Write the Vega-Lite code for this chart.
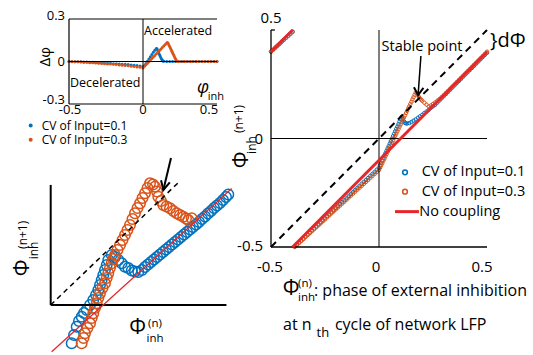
{
"$schema": "https://vega.github.io/schema/vega-lite/v6.json",
"width": 533, "height": 355, "autosize": {"type": "none"}, "padding": 0,
"background": "white",
"config": {"view": {"stroke": null}, "font": "Open Sans",
  "axis": {"grid": false, "ticks": false},
  "text": {"font": "Open Sans", "color": "#000"}},
"data": {"values": [{}]},
"datasets": {
"tl": [
{"cv":"0.1","x":-0.5,"y":0},{"cv":"0.1","x":-0.48,"y":-0.001},{"cv":"0.1","x":-0.46,"y":-0.001},{"cv":"0.1","x":-0.44,"y":-0.002},{"cv":"0.1","x":-0.42,"y":-0.002},{"cv":"0.1","x":-0.4,"y":-0.003},{"cv":"0.1","x":-0.38,"y":-0.004},{"cv":"0.1","x":-0.36,"y":-0.005},{"cv":"0.1","x":-0.34,"y":-0.006},{"cv":"0.1","x":-0.32,"y":-0.007},{"cv":"0.1","x":-0.3,"y":-0.008},{"cv":"0.1","x":-0.28,"y":-0.009},{"cv":"0.1","x":-0.26,"y":-0.011},{"cv":"0.1","x":-0.24,"y":-0.012},{"cv":"0.1","x":-0.22,"y":-0.013},{"cv":"0.1","x":-0.2,"y":-0.015},{"cv":"0.1","x":-0.18,"y":-0.016},{"cv":"0.1","x":-0.16,"y":-0.017},{"cv":"0.1","x":-0.14,"y":-0.019},{"cv":"0.1","x":-0.12,"y":-0.02},{"cv":"0.1","x":-0.1,"y":-0.022},{"cv":"0.1","x":-0.08,"y":-0.024},{"cv":"0.1","x":-0.06,"y":-0.026},{"cv":"0.1","x":-0.04,"y":-0.028},{"cv":"0.1","x":-0.02,"y":-0.031},{"cv":"0.1","x":0,"y":-0.035},{"cv":"0.1","x":0.01,"y":-0.028},{"cv":"0.1","x":0.02,"y":-0.014},{"cv":"0.1","x":0.03,"y":0.002},{"cv":"0.1","x":0.04,"y":0.018},{"cv":"0.1","x":0.05,"y":0.034},{"cv":"0.1","x":0.06,"y":0.05},{"cv":"0.1","x":0.07,"y":0.065},{"cv":"0.1","x":0.08,"y":0.08},{"cv":"0.1","x":0.09,"y":0.092},{"cv":"0.1","x":0.095,"y":0.09},{"cv":"0.1","x":0.1,"y":0.078},{"cv":"0.1","x":0.105,"y":0.066},{"cv":"0.1","x":0.11,"y":0.052},{"cv":"0.1","x":0.115,"y":0.04},{"cv":"0.1","x":0.12,"y":0.028},{"cv":"0.1","x":0.125,"y":0.018},{"cv":"0.1","x":0.13,"y":0.01},{"cv":"0.1","x":0.135,"y":0.004},{"cv":"0.1","x":0.14,"y":0.001},{"cv":"0.1","x":0.16,"y":0},{"cv":"0.1","x":0.18,"y":0},{"cv":"0.1","x":0.2,"y":0},{"cv":"0.1","x":0.22,"y":0},{"cv":"0.1","x":0.24,"y":0},{"cv":"0.1","x":0.26,"y":0},{"cv":"0.1","x":0.28,"y":0},{"cv":"0.1","x":0.3,"y":0},{"cv":"0.1","x":0.32,"y":0},{"cv":"0.1","x":0.34,"y":0},{"cv":"0.1","x":0.36,"y":0},{"cv":"0.1","x":0.38,"y":0},{"cv":"0.1","x":0.4,"y":0},{"cv":"0.1","x":0.42,"y":0},{"cv":"0.1","x":0.44,"y":0},{"cv":"0.1","x":0.46,"y":0},{"cv":"0.1","x":0.48,"y":0},{"cv":"0.1","x":0.5,"y":0},
{"cv":"0.3","x":-0.5,"y":0},{"cv":"0.3","x":-0.48,"y":0},{"cv":"0.3","x":-0.46,"y":-0.001},{"cv":"0.3","x":-0.44,"y":-0.002},{"cv":"0.3","x":-0.42,"y":-0.003},{"cv":"0.3","x":-0.4,"y":-0.005},{"cv":"0.3","x":-0.38,"y":-0.006},{"cv":"0.3","x":-0.36,"y":-0.008},{"cv":"0.3","x":-0.34,"y":-0.009},{"cv":"0.3","x":-0.32,"y":-0.011},{"cv":"0.3","x":-0.3,"y":-0.012},{"cv":"0.3","x":-0.28,"y":-0.014},{"cv":"0.3","x":-0.26,"y":-0.015},{"cv":"0.3","x":-0.24,"y":-0.017},{"cv":"0.3","x":-0.22,"y":-0.018},{"cv":"0.3","x":-0.2,"y":-0.02},{"cv":"0.3","x":-0.18,"y":-0.022},{"cv":"0.3","x":-0.16,"y":-0.024},{"cv":"0.3","x":-0.14,"y":-0.026},{"cv":"0.3","x":-0.12,"y":-0.028},{"cv":"0.3","x":-0.1,"y":-0.03},{"cv":"0.3","x":-0.08,"y":-0.033},{"cv":"0.3","x":-0.06,"y":-0.035},{"cv":"0.3","x":-0.04,"y":-0.038},{"cv":"0.3","x":-0.02,"y":-0.041},{"cv":"0.3","x":0,"y":-0.045},{"cv":"0.3","x":0.01,"y":-0.034},{"cv":"0.3","x":0.02,"y":-0.023},{"cv":"0.3","x":0.03,"y":-0.012},{"cv":"0.3","x":0.04,"y":-0.001},{"cv":"0.3","x":0.05,"y":0.01},{"cv":"0.3","x":0.06,"y":0.021},{"cv":"0.3","x":0.07,"y":0.032},{"cv":"0.3","x":0.08,"y":0.043},{"cv":"0.3","x":0.09,"y":0.054},{"cv":"0.3","x":0.1,"y":0.065},{"cv":"0.3","x":0.11,"y":0.076},{"cv":"0.3","x":0.12,"y":0.087},{"cv":"0.3","x":0.13,"y":0.098},{"cv":"0.3","x":0.14,"y":0.109},{"cv":"0.3","x":0.15,"y":0.12},{"cv":"0.3","x":0.16,"y":0.131},{"cv":"0.3","x":0.165,"y":0.135},{"cv":"0.3","x":0.17,"y":0.127},{"cv":"0.3","x":0.175,"y":0.117},{"cv":"0.3","x":0.18,"y":0.106},{"cv":"0.3","x":0.185,"y":0.095},{"cv":"0.3","x":0.19,"y":0.084},{"cv":"0.3","x":0.195,"y":0.073},{"cv":"0.3","x":0.2,"y":0.062},{"cv":"0.3","x":0.205,"y":0.051},{"cv":"0.3","x":0.21,"y":0.04},{"cv":"0.3","x":0.215,"y":0.029},{"cv":"0.3","x":0.22,"y":0.018},{"cv":"0.3","x":0.225,"y":0.008},{"cv":"0.3","x":0.23,"y":0.001},{"cv":"0.3","x":0.24,"y":0},{"cv":"0.3","x":0.26,"y":0},{"cv":"0.3","x":0.28,"y":0},{"cv":"0.3","x":0.3,"y":0},{"cv":"0.3","x":0.32,"y":0},{"cv":"0.3","x":0.34,"y":0},{"cv":"0.3","x":0.36,"y":0},{"cv":"0.3","x":0.38,"y":0},{"cv":"0.3","x":0.4,"y":0},{"cv":"0.3","x":0.42,"y":0},{"cv":"0.3","x":0.44,"y":0},{"cv":"0.3","x":0.46,"y":0},{"cv":"0.3","x":0.48,"y":0},{"cv":"0.3","x":0.5,"y":0}
],
"rp": [
{"cv":"0.1","x":-0.5,"y":0.4},{"cv":"0.1","x":-0.49,"y":0.409},{"cv":"0.1","x":-0.48,"y":0.419},{"cv":"0.1","x":-0.47,"y":0.428},{"cv":"0.1","x":-0.46,"y":0.437},{"cv":"0.1","x":-0.45,"y":0.447},{"cv":"0.1","x":-0.44,"y":0.456},{"cv":"0.1","x":-0.43,"y":0.465},{"cv":"0.1","x":-0.42,"y":0.474},{"cv":"0.1","x":-0.41,"y":0.484},{"cv":"0.1","x":-0.4,"y":0.493},
{"cv":"0.1","x":-0.39,"y":-0.498},{"cv":"0.1","x":-0.38,"y":-0.488},{"cv":"0.1","x":-0.37,"y":-0.479},{"cv":"0.1","x":-0.36,"y":-0.47},{"cv":"0.1","x":-0.35,"y":-0.461},{"cv":"0.1","x":-0.34,"y":-0.451},{"cv":"0.1","x":-0.33,"y":-0.442},{"cv":"0.1","x":-0.32,"y":-0.433},{"cv":"0.1","x":-0.31,"y":-0.423},{"cv":"0.1","x":-0.3,"y":-0.414},{"cv":"0.1","x":-0.29,"y":-0.405},{"cv":"0.1","x":-0.28,"y":-0.395},{"cv":"0.1","x":-0.27,"y":-0.386},{"cv":"0.1","x":-0.26,"y":-0.377},{"cv":"0.1","x":-0.25,"y":-0.368},{"cv":"0.1","x":-0.24,"y":-0.358},{"cv":"0.1","x":-0.23,"y":-0.349},{"cv":"0.1","x":-0.22,"y":-0.34},{"cv":"0.1","x":-0.21,"y":-0.33},{"cv":"0.1","x":-0.2,"y":-0.321},{"cv":"0.1","x":-0.19,"y":-0.312},{"cv":"0.1","x":-0.18,"y":-0.302},{"cv":"0.1","x":-0.17,"y":-0.293},{"cv":"0.1","x":-0.16,"y":-0.284},{"cv":"0.1","x":-0.15,"y":-0.275},{"cv":"0.1","x":-0.14,"y":-0.265},{"cv":"0.1","x":-0.13,"y":-0.256},{"cv":"0.1","x":-0.12,"y":-0.247},{"cv":"0.1","x":-0.11,"y":-0.237},{"cv":"0.1","x":-0.1,"y":-0.228},{"cv":"0.1","x":-0.09,"y":-0.219},{"cv":"0.1","x":-0.08,"y":-0.209},{"cv":"0.1","x":-0.07,"y":-0.2},{"cv":"0.1","x":-0.06,"y":-0.191},{"cv":"0.1","x":-0.05,"y":-0.182},{"cv":"0.1","x":-0.04,"y":-0.172},{"cv":"0.1","x":-0.03,"y":-0.163},{"cv":"0.1","x":-0.02,"y":-0.154},{"cv":"0.1","x":-0.01,"y":-0.144},{"cv":"0.1","x":0,"y":-0.135},
{"cv":"0.1","x":0.005,"y":-0.124},{"cv":"0.1","x":0.01,"y":-0.113},{"cv":"0.1","x":0.015,"y":-0.102},{"cv":"0.1","x":0.02,"y":-0.09},{"cv":"0.1","x":0.025,"y":-0.079},{"cv":"0.1","x":0.03,"y":-0.068},{"cv":"0.1","x":0.035,"y":-0.057},{"cv":"0.1","x":0.04,"y":-0.046},{"cv":"0.1","x":0.045,"y":-0.035},{"cv":"0.1","x":0.05,"y":-0.023},{"cv":"0.1","x":0.055,"y":-0.012},{"cv":"0.1","x":0.06,"y":-0.001},{"cv":"0.1","x":0.065,"y":0.011},{"cv":"0.1","x":0.07,"y":0.022},{"cv":"0.1","x":0.075,"y":0.033},{"cv":"0.1","x":0.08,"y":0.044},{"cv":"0.1","x":0.085,"y":0.055},{"cv":"0.1","x":0.09,"y":0.066},{"cv":"0.1","x":0.095,"y":0.078},{"cv":"0.1","x":0.1,"y":0.089},{"cv":"0.1","x":0.105,"y":0.1},
{"cv":"0.1","x":0.11,"y":0.09},{"cv":"0.1","x":0.115,"y":0.08},{"cv":"0.1","x":0.12,"y":0.072},{"cv":"0.1","x":0.125,"y":0.07},{"cv":"0.1","x":0.13,"y":0.069},{"cv":"0.1","x":0.14,"y":0.071},{"cv":"0.1","x":0.15,"y":0.076},{"cv":"0.1","x":0.16,"y":0.082},{"cv":"0.1","x":0.17,"y":0.088},{"cv":"0.1","x":0.18,"y":0.095},{"cv":"0.1","x":0.19,"y":0.102},{"cv":"0.1","x":0.2,"y":0.109},{"cv":"0.1","x":0.21,"y":0.117},{"cv":"0.1","x":0.22,"y":0.124},{"cv":"0.1","x":0.23,"y":0.132},{"cv":"0.1","x":0.24,"y":0.141},{"cv":"0.1","x":0.25,"y":0.148},{"cv":"0.1","x":0.26,"y":0.155},{"cv":"0.1","x":0.27,"y":0.165},{"cv":"0.1","x":0.28,"y":0.175},{"cv":"0.1","x":0.29,"y":0.185},{"cv":"0.1","x":0.3,"y":0.195},{"cv":"0.1","x":0.31,"y":0.205},{"cv":"0.1","x":0.32,"y":0.215},{"cv":"0.1","x":0.33,"y":0.225},{"cv":"0.1","x":0.34,"y":0.235},{"cv":"0.1","x":0.35,"y":0.245},{"cv":"0.1","x":0.36,"y":0.255},{"cv":"0.1","x":0.37,"y":0.265},{"cv":"0.1","x":0.38,"y":0.275},{"cv":"0.1","x":0.39,"y":0.285},{"cv":"0.1","x":0.4,"y":0.295},{"cv":"0.1","x":0.41,"y":0.305},{"cv":"0.1","x":0.42,"y":0.315},{"cv":"0.1","x":0.43,"y":0.325},{"cv":"0.1","x":0.44,"y":0.335},{"cv":"0.1","x":0.45,"y":0.345},{"cv":"0.1","x":0.46,"y":0.355},{"cv":"0.1","x":0.47,"y":0.365},{"cv":"0.1","x":0.48,"y":0.375},{"cv":"0.1","x":0.49,"y":0.385},{"cv":"0.1","x":0.5,"y":0.395},
{"cv":"0.3","x":-0.5,"y":0.4},{"cv":"0.3","x":-0.49,"y":0.409},{"cv":"0.3","x":-0.48,"y":0.418},{"cv":"0.3","x":-0.47,"y":0.427},{"cv":"0.3","x":-0.46,"y":0.436},{"cv":"0.3","x":-0.45,"y":0.446},{"cv":"0.3","x":-0.44,"y":0.455},{"cv":"0.3","x":-0.43,"y":0.464},{"cv":"0.3","x":-0.42,"y":0.473},{"cv":"0.3","x":-0.41,"y":0.482},{"cv":"0.3","x":-0.4,"y":0.491},
{"cv":"0.3","x":-0.39,"y":-0.5},{"cv":"0.3","x":-0.38,"y":-0.491},{"cv":"0.3","x":-0.37,"y":-0.482},{"cv":"0.3","x":-0.36,"y":-0.473},{"cv":"0.3","x":-0.35,"y":-0.464},{"cv":"0.3","x":-0.34,"y":-0.454},{"cv":"0.3","x":-0.33,"y":-0.445},{"cv":"0.3","x":-0.32,"y":-0.436},{"cv":"0.3","x":-0.31,"y":-0.427},{"cv":"0.3","x":-0.3,"y":-0.418},{"cv":"0.3","x":-0.29,"y":-0.409},{"cv":"0.3","x":-0.28,"y":-0.4},{"cv":"0.3","x":-0.27,"y":-0.391},{"cv":"0.3","x":-0.26,"y":-0.382},{"cv":"0.3","x":-0.25,"y":-0.373},{"cv":"0.3","x":-0.24,"y":-0.363},{"cv":"0.3","x":-0.23,"y":-0.354},{"cv":"0.3","x":-0.22,"y":-0.345},{"cv":"0.3","x":-0.21,"y":-0.336},{"cv":"0.3","x":-0.2,"y":-0.327},{"cv":"0.3","x":-0.19,"y":-0.318},{"cv":"0.3","x":-0.18,"y":-0.309},{"cv":"0.3","x":-0.17,"y":-0.3},{"cv":"0.3","x":-0.16,"y":-0.291},{"cv":"0.3","x":-0.15,"y":-0.282},{"cv":"0.3","x":-0.14,"y":-0.272},{"cv":"0.3","x":-0.13,"y":-0.263},{"cv":"0.3","x":-0.12,"y":-0.254},{"cv":"0.3","x":-0.11,"y":-0.245},{"cv":"0.3","x":-0.1,"y":-0.236},{"cv":"0.3","x":-0.09,"y":-0.227},{"cv":"0.3","x":-0.08,"y":-0.218},{"cv":"0.3","x":-0.07,"y":-0.209},{"cv":"0.3","x":-0.06,"y":-0.2},{"cv":"0.3","x":-0.05,"y":-0.191},{"cv":"0.3","x":-0.04,"y":-0.181},{"cv":"0.3","x":-0.03,"y":-0.172},{"cv":"0.3","x":-0.02,"y":-0.163},{"cv":"0.3","x":-0.01,"y":-0.154},{"cv":"0.3","x":0,"y":-0.145},
{"cv":"0.3","x":0.005,"y":-0.135},{"cv":"0.3","x":0.01,"y":-0.124},{"cv":"0.3","x":0.015,"y":-0.114},{"cv":"0.3","x":0.02,"y":-0.103},{"cv":"0.3","x":0.025,"y":-0.093},{"cv":"0.3","x":0.03,"y":-0.082},{"cv":"0.3","x":0.035,"y":-0.072},{"cv":"0.3","x":0.04,"y":-0.061},{"cv":"0.3","x":0.045,"y":-0.051},{"cv":"0.3","x":0.05,"y":-0.04},{"cv":"0.3","x":0.055,"y":-0.03},{"cv":"0.3","x":0.06,"y":-0.019},{"cv":"0.3","x":0.065,"y":-0.009},{"cv":"0.3","x":0.07,"y":0.002},{"cv":"0.3","x":0.075,"y":0.012},{"cv":"0.3","x":0.08,"y":0.022},{"cv":"0.3","x":0.085,"y":0.033},{"cv":"0.3","x":0.09,"y":0.043},{"cv":"0.3","x":0.095,"y":0.054},{"cv":"0.3","x":0.1,"y":0.064},{"cv":"0.3","x":0.105,"y":0.075},{"cv":"0.3","x":0.11,"y":0.085},{"cv":"0.3","x":0.115,"y":0.096},{"cv":"0.3","x":0.12,"y":0.106},{"cv":"0.3","x":0.125,"y":0.117},{"cv":"0.3","x":0.13,"y":0.127},{"cv":"0.3","x":0.135,"y":0.138},{"cv":"0.3","x":0.14,"y":0.148},{"cv":"0.3","x":0.145,"y":0.159},{"cv":"0.3","x":0.15,"y":0.169},{"cv":"0.3","x":0.155,"y":0.18},{"cv":"0.3","x":0.16,"y":0.19},{"cv":"0.3","x":0.165,"y":0.201},{"cv":"0.3","x":0.17,"y":0.211},{"cv":"0.3","x":0.175,"y":0.208},{"cv":"0.3","x":0.18,"y":0.2},{"cv":"0.3","x":0.185,"y":0.191},{"cv":"0.3","x":0.19,"y":0.184},{"cv":"0.3","x":0.195,"y":0.179},{"cv":"0.3","x":0.2,"y":0.174},{"cv":"0.3","x":0.21,"y":0.165},{"cv":"0.3","x":0.22,"y":0.156},{"cv":"0.3","x":0.23,"y":0.148},{"cv":"0.3","x":0.24,"y":0.152},{"cv":"0.3","x":0.25,"y":0.159},{"cv":"0.3","x":0.26,"y":0.166},{"cv":"0.3","x":0.27,"y":0.174},{"cv":"0.3","x":0.28,"y":0.182},{"cv":"0.3","x":0.29,"y":0.191},{"cv":"0.3","x":0.3,"y":0.2},{"cv":"0.3","x":0.31,"y":0.21},{"cv":"0.3","x":0.32,"y":0.22},{"cv":"0.3","x":0.33,"y":0.23},{"cv":"0.3","x":0.34,"y":0.24},{"cv":"0.3","x":0.35,"y":0.25},{"cv":"0.3","x":0.36,"y":0.26},{"cv":"0.3","x":0.37,"y":0.27},{"cv":"0.3","x":0.38,"y":0.28},{"cv":"0.3","x":0.39,"y":0.29},{"cv":"0.3","x":0.4,"y":0.3},{"cv":"0.3","x":0.41,"y":0.31},{"cv":"0.3","x":0.42,"y":0.32},{"cv":"0.3","x":0.43,"y":0.33},{"cv":"0.3","x":0.44,"y":0.34},{"cv":"0.3","x":0.45,"y":0.35},{"cv":"0.3","x":0.46,"y":0.36},{"cv":"0.3","x":0.47,"y":0.37},{"cv":"0.3","x":0.48,"y":0.38},{"cv":"0.3","x":0.49,"y":0.39},{"cv":"0.3","x":0.5,"y":0.4}
],
"nc": [
{"seg":"a","x":-0.5,"y":0.4},{"seg":"a","x":-0.4,"y":0.5},{"seg":"b","x":-0.4,"y":-0.5},{"seg":"b","x":0.5,"y":0.4}
],
"bl": [
{"cv":"0.1","x":0.0362,"y":-0.066},{"cv":"0.1","x":0.0402,"y":-0.0517},{"cv":"0.1","x":0.0448,"y":-0.0374},{"cv":"0.1","x":0.0488,"y":-0.0276},{"cv":"0.1","x":0.0534,"y":-0.0202},{"cv":"0.1","x":0.0574,"y":-0.0138},{"cv":"0.1","x":0.0621,"y":-0.0086},{"cv":"0.1","x":0.0678,"y":0},{"cv":"0.1","x":0.0734,"y":0.0086},{"cv":"0.1","x":0.0781,"y":0.0172},{"cv":"0.1","x":0.0821,"y":0.0259},{"cv":"0.1","x":0.085,"y":0.0345},{"cv":"0.1","x":0.0879,"y":0.0431},{"cv":"0.1","x":0.0907,"y":0.0517},{"cv":"0.1","x":0.0936,"y":0.0603},{"cv":"0.1","x":0.0966,"y":0.069},{"cv":"0.1","x":0.0993,"y":0.0776},{"cv":"0.1","x":0.1052,"y":0.0862},{"cv":"0.1","x":0.1109,"y":0.0828},{"cv":"0.1","x":0.1166,"y":0.0776},{"cv":"0.1","x":0.1224,"y":0.0719},{"cv":"0.1","x":0.1281,"y":0.066},{"cv":"0.1","x":0.1338,"y":0.0638},{"cv":"0.1","x":0.1397,"y":0.0595},{"cv":"0.1","x":0.1453,"y":0.0578},{"cv":"0.1","x":0.151,"y":0.0569},{"cv":"0.1","x":0.1574,"y":0.0603},{"cv":"0.1","x":0.1626,"y":0.0655},{"cv":"0.1","x":0.1678,"y":0.0698},{"cv":"0.1","x":0.1729,"y":0.0741},{"cv":"0.1","x":0.1781,"y":0.0784},{"cv":"0.1","x":0.1833,"y":0.0828},{"cv":"0.1","x":0.1884,"y":0.0871},{"cv":"0.1","x":0.1936,"y":0.0914},{"cv":"0.1","x":0.1988,"y":0.0957},{"cv":"0.1","x":0.204,"y":0.1},{"cv":"0.1","x":0.2091,"y":0.1043},{"cv":"0.1","x":0.2143,"y":0.1086},{"cv":"0.1","x":0.2195,"y":0.1129},{"cv":"0.1","x":0.2247,"y":0.1172},{"cv":"0.1","x":0.2298,"y":0.1216},{"cv":"0.1","x":0.235,"y":0.1259},{"cv":"0.1","x":0.2402,"y":0.1302},{"cv":"0.1","x":0.2453,"y":0.1345},{"cv":"0.1","x":0.2505,"y":0.1388},{"cv":"0.1","x":0.2557,"y":0.1431},{"cv":"0.1","x":0.2609,"y":0.1483},{"cv":"0.1","x":0.266,"y":0.1526},{"cv":"0.1","x":0.2712,"y":0.1578},{"cv":"0.1","x":0.2764,"y":0.1621},{"cv":"0.1","x":0.2816,"y":0.1672},{"cv":"0.1","x":0.2867,"y":0.1716},{"cv":"0.1","x":0.2919,"y":0.1759},{"cv":"0.1","x":0.2971,"y":0.181},{"cv":"0.1","x":0.3022,"y":0.1862},{"cv":"0.1","x":0.3062,"y":0.1905},
{"cv":"0.3","x":0.0534,"y":-0.066},{"cv":"0.3","x":0.0566,"y":-0.0569},{"cv":"0.3","x":0.0591,"y":-0.0488},{"cv":"0.3","x":0.0634,"y":-0.0397},{"cv":"0.3","x":0.0678,"y":-0.0316},{"cv":"0.3","x":0.0707,"y":-0.0224},{"cv":"0.3","x":0.0734,"y":-0.0143},{"cv":"0.3","x":0.0764,"y":-0.0052},{"cv":"0.3","x":0.0793,"y":0.0029},{"cv":"0.3","x":0.0821,"y":0.0121},{"cv":"0.3","x":0.085,"y":0.0202},{"cv":"0.3","x":0.0893,"y":0.0293},{"cv":"0.3","x":0.0936,"y":0.0374},{"cv":"0.3","x":0.0966,"y":0.0466},{"cv":"0.3","x":0.0993,"y":0.0547},{"cv":"0.3","x":0.1022,"y":0.0638},{"cv":"0.3","x":0.1052,"y":0.0719},{"cv":"0.3","x":0.1079,"y":0.0793},{"cv":"0.3","x":0.1109,"y":0.0862},{"cv":"0.3","x":0.1152,"y":0.0948},{"cv":"0.3","x":0.1195,"y":0.1034},{"cv":"0.3","x":0.1238,"y":0.1121},{"cv":"0.3","x":0.1281,"y":0.1207},{"cv":"0.3","x":0.1324,"y":0.1293},{"cv":"0.3","x":0.1367,"y":0.1379},{"cv":"0.3","x":0.141,"y":0.1483},{"cv":"0.3","x":0.1453,"y":0.1581},{"cv":"0.3","x":0.1497,"y":0.1672},{"cv":"0.3","x":0.154,"y":0.1753},{"cv":"0.3","x":0.1583,"y":0.1845},{"cv":"0.3","x":0.1626,"y":0.1926},{"cv":"0.3","x":0.1669,"y":0.2017},{"cv":"0.3","x":0.1712,"y":0.2098},{"cv":"0.3","x":0.1764,"y":0.2078},{"cv":"0.3","x":0.1798,"y":0.204},{"cv":"0.3","x":0.1833,"y":0.1957},{"cv":"0.3","x":0.1855,"y":0.1867},{"cv":"0.3","x":0.1902,"y":0.1793},{"cv":"0.3","x":0.1941,"y":0.1724},{"cv":"0.3","x":0.1997,"y":0.1698},{"cv":"0.3","x":0.2057,"y":0.1667},{"cv":"0.3","x":0.2114,"y":0.1621},{"cv":"0.3","x":0.2172,"y":0.1581},{"cv":"0.3","x":0.2229,"y":0.1552},{"cv":"0.3","x":0.2286,"y":0.1522},{"cv":"0.3","x":0.2333,"y":0.1491},{"cv":"0.3","x":0.2372,"y":0.1466},{"cv":"0.3","x":0.2431,"y":0.1495}
]
},
"resolve": {"scale": {"x": "independent", "y": "independent"}, "axis": {"x": "independent", "y": "independent"}},
"layer": [
{
 "layer": [
  {"data": {"name": "tl"}, "mark": {"type": "point", "filled": true, "size": 9, "opacity": 1, "strokeWidth": 0},
   "encoding": {
    "x": {"field": "x", "type": "quantitative", "scale": {"domain": [-0.5, 0.5], "range": [69, 217], "nice": false, "zero": false}, "axis": null},
    "y": {"field": "y", "type": "quantitative", "scale": {"domain": [-0.3, 0.3], "range": [104, 19], "nice": false, "zero": false}, "axis": null},
    "color": {"field": "cv", "type": "nominal", "scale": {"domain": ["0.1", "0.3"], "range": ["#0072BD", "#D95319"]}, "legend": null}
   }},
  {"mark": {"type": "rule", "color": "#000", "strokeWidth": 1}, "encoding": {"x": {"datum": -0.5, "axis": null}, "x2": {"datum": 0.5}, "y": {"datum": 0, "axis": null}}},
  {"mark": {"type": "rule", "color": "#000", "strokeWidth": 1}, "encoding": {"x": {"datum": 0, "axis": null}, "y": {"datum": -0.3, "axis": null}, "y2": {"datum": 0.3}}},
  {"mark": {"type": "rule", "color": "#000", "strokeWidth": 1}, "encoding": {"x": {"datum": -0.5, "axis": null}, "x2": {"datum": 0.5}, "y": {"datum": 0.3, "axis": null}}},
  {"mark": {"type": "rule", "color": "#000", "strokeWidth": 1.2}, "encoding": {"x": {"datum": -0.5, "axis": null}, "x2": {"datum": 0.5}, "y": {"datum": -0.3, "axis": null}}},
  {"mark": {"type": "rule", "color": "#000", "strokeWidth": 1.2}, "encoding": {"x": {"datum": -0.5, "axis": null}, "y": {"datum": -0.3, "axis": null}, "y2": {"datum": 0.3}}},
  {"mark": {"type": "text", "text": "0.3", "fontSize": 13, "align": "right", "baseline": "middle"}, "encoding": {"x": {"datum": -0.527, "axis": null}, "y": {"datum": 0.321, "axis": null}}},
  {"mark": {"type": "text", "text": "0", "fontSize": 13, "align": "right", "baseline": "middle"}, "encoding": {"x": {"datum": -0.527, "axis": null}, "y": {"datum": 0, "axis": null}}},
  {"mark": {"type": "text", "text": "-0.3", "fontSize": 13, "align": "right", "baseline": "middle"}, "encoding": {"x": {"datum": -0.527, "axis": null}, "y": {"datum": -0.272, "axis": null}}},
  {"mark": {"type": "text", "text": "-0.5", "fontSize": 13, "align": "center", "baseline": "middle"}, "encoding": {"x": {"datum": -0.493, "axis": null}, "y": {"datum": -0.345, "axis": null}}},
  {"mark": {"type": "text", "text": "0", "fontSize": 13, "align": "center", "baseline": "middle"}, "encoding": {"x": {"datum": 0, "axis": null}, "y": {"datum": -0.345, "axis": null}}},
  {"mark": {"type": "text", "text": "0.5", "fontSize": 13, "align": "center", "baseline": "middle"}, "encoding": {"x": {"datum": 0.446, "axis": null}, "y": {"datum": -0.345, "axis": null}}},
  {"mark": {"type": "text", "text": "Accelerated", "fontSize": 12.5, "align": "left", "baseline": "middle"}, "encoding": {"x": {"datum": 0.0068, "axis": null}, "y": {"datum": 0.213, "axis": null}}},
  {"mark": {"type": "text", "text": "Decelerated", "fontSize": 12.5, "align": "left", "baseline": "middle"}, "encoding": {"x": {"datum": -0.493, "axis": null}, "y": {"datum": -0.15, "axis": null}}},
  {"mark": {"type": "text", "text": "φ", "fontSize": 18, "fontStyle": "italic", "align": "center", "baseline": "middle"}, "encoding": {"x": {"datum": 0.405, "axis": null}, "y": {"datum": -0.19, "axis": null}}},
  {"mark": {"type": "text", "text": "inh", "fontSize": 11, "align": "center", "baseline": "middle"}, "encoding": {"x": {"datum": 0.493, "axis": null}, "y": {"datum": -0.248, "axis": null}}},
  {"mark": {"type": "text", "text": "Δφ", "fontSize": 15, "angle": 270, "align": "center", "baseline": "middle"}, "encoding": {"x": {"datum": -0.66, "axis": null}, "y": {"datum": 0.034, "axis": null}}},
  {"mark": {"type": "point", "filled": true, "size": 16, "color": "#0072BD", "opacity": 1}, "encoding": {"x": {"datum": -0.759, "axis": null}, "y": {"datum": -0.452, "axis": null}}},
  {"mark": {"type": "point", "filled": true, "size": 16, "color": "#D95319", "opacity": 1}, "encoding": {"x": {"datum": -0.759, "axis": null}, "y": {"datum": -0.552, "axis": null}}},
  {"mark": {"type": "text", "text": "CV of Input=0.1", "fontSize": 12, "align": "left", "baseline": "middle"}, "encoding": {"x": {"datum": -0.6845, "axis": null}, "y": {"datum": -0.452, "axis": null}}},
  {"mark": {"type": "text", "text": "CV of Input=0.3", "fontSize": 12, "align": "left", "baseline": "middle"}, "encoding": {"x": {"datum": -0.6845, "axis": null}, "y": {"datum": -0.552, "axis": null}}}
 ]
},
{
 "layer": [
  {"data": {"name": "bl"}, "mark": {"type": "point", "filled": false, "size": 110, "strokeWidth": 1.5, "opacity": 1},
   "encoding": {
    "x": {"field": "x", "type": "quantitative", "scale": {"domain": [0, 0.3], "range": [50.7, 224.7], "nice": false, "zero": false}, "axis": null},
    "y": {"field": "y", "type": "quantitative", "scale": {"domain": [0, 0.2], "range": [305, 189], "nice": false, "zero": false}, "axis": null},
    "color": {"field": "cv", "type": "nominal", "scale": {"domain": ["0.1", "0.3"], "range": ["#0072BD", "#D95319"]}, "legend": null}
   }},
  {"mark": {"type": "rule", "color": "#000", "strokeWidth": 2}, "encoding": {"x": {"datum": 0, "axis": null}, "y": {"datum": 0, "axis": null}, "y2": {"datum": 0.207}}},
  {"mark": {"type": "rule", "color": "#000", "strokeWidth": 2}, "encoding": {"x": {"datum": 0, "axis": null}, "x2": {"datum": 0.303}, "y": {"datum": 0, "axis": null}}},
  {"mark": {"type": "rule", "color": "#E8262A", "strokeWidth": 1.3}, "encoding": {"x": {"datum": 0.0017, "axis": null}, "y": {"datum": -0.0805, "axis": null}, "x2": {"datum": 0.312}, "y2": {"datum": 0.201}}},
  {"mark": {"type": "rule", "color": "#000", "strokeWidth": 1.5, "strokeDash": [5, 4]}, "encoding": {"x": {"datum": 0, "axis": null}, "y": {"datum": 0, "axis": null}, "x2": {"datum": 0.22}, "y2": {"datum": 0.211}}},
  {"mark": {"type": "rule", "color": "#000", "strokeWidth": 2}, "encoding": {"x": {"datum": 0.2074, "axis": null}, "y": {"datum": 0.2534, "axis": null}, "x2": {"datum": 0.1942}, "y2": {"datum": 0.1983}}},
  {"mark": {"type": "point", "shape": "M-1,-2L0,0L1,-2", "filled": false, "size": 81, "color": "#000", "strokeWidth": 2, "angle": 13.5, "opacity": 1}, "encoding": {"x": {"datum": 0.1942, "axis": null}, "y": {"datum": 0.1983, "axis": null}}},
  {"mark": {"type": "text", "text": "Φ", "fontSize": 21, "angle": 270, "align": "center", "baseline": "middle"}, "encoding": {"x": {"datum": -0.0478, "axis": null}, "y": {"datum": 0.0638, "axis": null}}},
  {"mark": {"type": "text", "text": "(n+1)", "fontSize": 12, "angle": 270, "align": "center", "baseline": "middle"}, "encoding": {"x": {"datum": -0.0486, "axis": null}, "y": {"datum": 0.121, "axis": null}}},
  {"mark": {"type": "text", "text": "inh", "fontSize": 12, "angle": 270, "align": "center", "baseline": "middle"}, "encoding": {"x": {"datum": -0.0288, "axis": null}, "y": {"datum": 0.094, "axis": null}}},
  {"mark": {"type": "text", "text": "Φ", "fontSize": 21, "align": "center", "baseline": "middle"}, "encoding": {"x": {"datum": 0.1497, "axis": null}, "y": {"datum": -0.0405, "axis": null}}},
  {"mark": {"type": "text", "text": "(n)", "fontSize": 11.5, "align": "center", "baseline": "middle"}, "encoding": {"x": {"datum": 0.1798, "axis": null}, "y": {"datum": -0.0328, "axis": null}}},
  {"mark": {"type": "text", "text": "inh", "fontSize": 11.5, "align": "center", "baseline": "middle"}, "encoding": {"x": {"datum": 0.1798, "axis": null}, "y": {"datum": -0.0588, "axis": null}}}
 ]
},
{
 "layer": [
  {"data": {"name": "rp"}, "mark": {"type": "point", "filled": false, "size": 12, "strokeWidth": 1, "opacity": 1},
   "encoding": {
    "x": {"field": "x", "type": "quantitative", "scale": {"domain": [-0.5, 0.5], "range": [271, 487], "nice": false, "zero": false}, "axis": null},
    "y": {"field": "y", "type": "quantitative", "scale": {"domain": [-0.5, 0.5], "range": [247, 30], "nice": false, "zero": false}, "axis": null},
    "color": {"field": "cv", "type": "nominal", "scale": {"domain": ["0.1", "0.3"], "range": ["#0072BD", "#D95319"]}, "legend": null}
   }},
  {"mark": {"type": "rule", "color": "#000", "strokeWidth": 1}, "encoding": {"x": {"datum": -0.5, "axis": null}, "x2": {"datum": 0.5}, "y": {"datum": 0, "axis": null}}},
  {"mark": {"type": "rule", "color": "#000", "strokeWidth": 1}, "encoding": {"x": {"datum": 0, "axis": null}, "y": {"datum": -0.5, "axis": null}, "y2": {"datum": 0.5}}},
  {"mark": {"type": "rule", "color": "#000", "strokeWidth": 1.3}, "encoding": {"x": {"datum": -0.5, "axis": null}, "x2": {"datum": 0.5}, "y": {"datum": -0.5, "axis": null}}},
  {"mark": {"type": "rule", "color": "#000", "strokeWidth": 1.3}, "encoding": {"x": {"datum": -0.5, "axis": null}, "y": {"datum": -0.5, "axis": null}, "y2": {"datum": 0.5}}},
  {"mark": {"type": "rule", "color": "#000", "strokeWidth": 1.3}, "encoding": {"x": {"datum": -0.5, "axis": null}, "x2": {"datum": -0.482}, "y": {"datum": 0.5, "axis": null}}},
  {"data": {"name": "nc"}, "mark": {"type": "line", "color": "#E8262A", "strokeWidth": 3},
   "encoding": {"x": {"field": "x", "type": "quantitative", "axis": null}, "y": {"field": "y", "type": "quantitative", "axis": null}, "detail": {"field": "seg"}}},
  {"mark": {"type": "rule", "color": "#000", "strokeWidth": 2, "strokeDash": [7, 5]}, "encoding": {"x": {"datum": -0.5, "axis": null}, "y": {"datum": -0.5, "axis": null}, "x2": {"datum": 0.5}, "y2": {"datum": 0.5}}},
  {"mark": {"type": "text", "text": "0.5", "fontSize": 15, "align": "center", "baseline": "middle"}, "encoding": {"x": {"datum": -0.5, "axis": null}, "y": {"datum": 0.555, "axis": null}}},
  {"mark": {"type": "text", "text": "0", "fontSize": 15, "align": "right", "baseline": "middle"}, "encoding": {"x": {"datum": -0.537, "axis": null}, "y": {"datum": 0, "axis": null}}},
  {"mark": {"type": "text", "text": "-0.5", "fontSize": 15, "align": "right", "baseline": "middle"}, "encoding": {"x": {"datum": -0.537, "axis": null}, "y": {"datum": -0.495, "axis": null}}},
  {"mark": {"type": "text", "text": "-0.5", "fontSize": 15, "align": "center", "baseline": "middle"}, "encoding": {"x": {"datum": -0.505, "axis": null}, "y": {"datum": -0.591, "axis": null}}},
  {"mark": {"type": "text", "text": "0", "fontSize": 15, "align": "center", "baseline": "middle"}, "encoding": {"x": {"datum": -0.014, "axis": null}, "y": {"datum": -0.591, "axis": null}}},
  {"mark": {"type": "text", "text": "0.5", "fontSize": 15, "align": "center", "baseline": "middle"}, "encoding": {"x": {"datum": 0.477, "axis": null}, "y": {"datum": -0.591, "axis": null}}},
  {"mark": {"type": "text", "text": "Stable point", "fontSize": 14.5, "align": "center", "baseline": "middle"}, "encoding": {"x": {"datum": 0.199, "axis": null}, "y": {"datum": 0.422, "axis": null}}},
  {"mark": {"type": "rule", "color": "#000", "strokeWidth": 1.5}, "encoding": {"x": {"datum": 0.194, "axis": null}, "y": {"datum": 0.38, "axis": null}, "x2": {"datum": 0.181}, "y2": {"datum": 0.2}}},
  {"mark": {"type": "point", "shape": "M-1,-1.6L0,0L1,-1.6", "filled": false, "size": 90, "color": "#000", "strokeWidth": 2, "angle": 4.4, "opacity": 1}, "encoding": {"x": {"datum": 0.181, "axis": null}, "y": {"datum": 0.2, "axis": null}}},
  {"mark": {"type": "text", "text": "}dΦ", "fontSize": 20, "align": "left", "baseline": "middle"}, "encoding": {"x": {"datum": 0.514, "axis": null}, "y": {"datum": 0.449, "axis": null}}},
  {"mark": {"type": "point", "filled": false, "size": 22, "strokeWidth": 1.6, "color": "#0072BD", "opacity": 1}, "encoding": {"x": {"datum": 0.1204, "axis": null}, "y": {"datum": -0.156, "axis": null}}},
  {"mark": {"type": "point", "filled": false, "size": 22, "strokeWidth": 1.6, "color": "#D95319", "opacity": 1}, "encoding": {"x": {"datum": 0.1204, "axis": null}, "y": {"datum": -0.245, "axis": null}}},
  {"mark": {"type": "rule", "color": "#E8262A", "strokeWidth": 3}, "encoding": {"x": {"datum": 0.074, "axis": null}, "x2": {"datum": 0.185}, "y": {"datum": -0.337, "axis": null}}},
  {"mark": {"type": "text", "text": "CV of Input=0.1", "fontSize": 14.5, "align": "left", "baseline": "middle"}, "encoding": {"x": {"datum": 0.1977, "axis": null}, "y": {"datum": -0.156, "axis": null}}},
  {"mark": {"type": "text", "text": "CV of Input=0.3", "fontSize": 14.5, "align": "left", "baseline": "middle"}, "encoding": {"x": {"datum": 0.1977, "axis": null}, "y": {"datum": -0.245, "axis": null}}},
  {"mark": {"type": "text", "text": "No coupling", "fontSize": 14.5, "align": "left", "baseline": "middle"}, "encoding": {"x": {"datum": 0.1866, "axis": null}, "y": {"datum": -0.337, "axis": null}}},
  {"mark": {"type": "text", "text": "Φ", "fontSize": 21, "angle": 270, "align": "center", "baseline": "middle"}, "encoding": {"x": {"datum": -0.632, "axis": null}, "y": {"datum": -0.099, "axis": null}}},
  {"mark": {"type": "text", "text": "inh", "fontSize": 12, "angle": 270, "align": "center", "baseline": "middle"}, "encoding": {"x": {"datum": -0.588, "axis": null}, "y": {"datum": -0.03, "axis": null}}},
  {"mark": {"type": "text", "text": "(n+1)", "fontSize": 12, "angle": 270, "align": "center", "baseline": "middle"}, "encoding": {"x": {"datum": -0.65, "axis": null}, "y": {"datum": 0.09, "axis": null}}},
  {"mark": {"type": "text", "text": "Φ", "fontSize": 21, "align": "center", "baseline": "middle"}, "encoding": {"x": {"datum": -0.407, "axis": null}, "y": {"datum": -0.694, "axis": null}}},
  {"mark": {"type": "text", "text": "(n)", "fontSize": 11.5, "align": "left", "baseline": "middle"}, "encoding": {"x": {"datum": -0.375, "axis": null}, "y": {"datum": -0.669, "axis": null}}},
  {"mark": {"type": "text", "text": "inh", "fontSize": 11.5, "align": "left", "baseline": "middle"}, "encoding": {"x": {"datum": -0.375, "axis": null}, "y": {"datum": -0.737, "axis": null}}},
  {"mark": {"type": "text", "text": ": phase of external inhibition", "fontSize": 16, "align": "left", "baseline": "middle"}, "encoding": {"x": {"datum": -0.301, "axis": null}, "y": {"datum": -0.703, "axis": null}}},
  {"mark": {"type": "text", "text": "at n", "fontSize": 16, "align": "left", "baseline": "middle"}, "encoding": {"x": {"datum": -0.444, "axis": null}, "y": {"datum": -0.859, "axis": null}}},
  {"mark": {"type": "text", "text": "th", "fontSize": 13, "align": "center", "baseline": "middle"}, "encoding": {"x": {"datum": -0.26, "axis": null}, "y": {"datum": -0.898, "axis": null}}},
  {"mark": {"type": "text", "text": "cycle of network LFP", "fontSize": 16, "align": "left", "baseline": "middle"}, "encoding": {"x": {"datum": -0.204, "axis": null}, "y": {"datum": -0.859, "axis": null}}}
 ]
}
]
}
